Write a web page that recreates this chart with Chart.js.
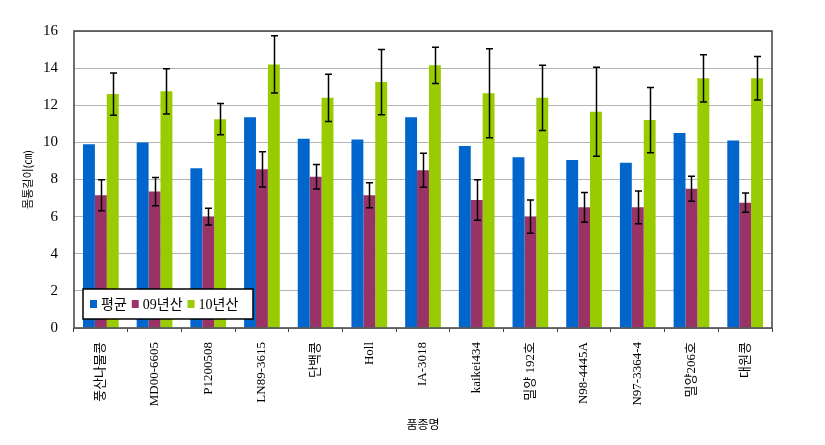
<!DOCTYPE html>
<html>
<head>
<meta charset="utf-8">
<script src="https://cdn.jsdelivr.net/npm/chart.js@4/dist/chart.umd.min.js"></script>
<style>
  html, body { margin: 0; padding: 0; background: #fff; }
  #wrap { width: 825px; height: 445px; }
</style>
</head>
<body>
<div id="wrap"><canvas id="bars"></canvas></div>
<script>
// categories along the x-axis
var varieties = ['풍산나물콩', 'MD00-6605', 'P1200508', 'LN89-3615', '단백콩', 'Holl', 'IA-3018',
                 'kaikei434', '밀양 192호', 'N98-4445A', 'N97-3364-4', '밀양206호', '대원콩'];
// series values
var mean = [9.9, 10.0, 8.6, 11.35, 10.2, 10.15, 11.35, 9.8, 9.2, 9.05, 8.9, 10.5, 10.1];
var y09 = [7.15, 7.35, 6.0, 8.55, 8.15, 7.15, 8.5, 6.9, 6.0, 6.5, 6.5, 7.5, 6.75];
var y10 = [12.6, 12.75, 11.25, 14.2, 12.4, 13.25, 14.15, 12.65, 12.4, 11.65, 11.2, 13.45, 13.45];
// error bar half widths
var err09 = [0.83, 0.76, 0.45, 0.95, 0.66, 0.67, 0.92, 1.09, 0.9, 0.8, 0.88, 0.67, 0.52];
var err10 = [1.14, 1.22, 0.84, 1.54, 1.27, 1.76, 0.98, 2.4, 1.76, 2.4, 1.76, 1.27, 1.17];
// y tick range
var yMin = 0, yMax = 16, yStep = 2;

var serif = "'Liberation Serif', 'Noto Sans CJK KR', serif";
var korean = "'Noto Sans CJK KR', sans-serif";

// error bars drawn from each bar through the y scale
var errorBars = {
  id: 'errorBars',
  afterDatasetsDraw: function(chart) {
    var ctx = chart.ctx;
    var y = chart.scales.y;
    ctx.save();
    ctx.strokeStyle = '#000';
    ctx.lineWidth = 1.5;
    chart.data.datasets.forEach(function(ds, i) {
      if (!ds.errors) return;
      var meta = chart.getDatasetMeta(i);
      meta.data.forEach(function(bar, j) {
        var top = y.getPixelForValue(ds.data[j] + ds.errors[j]);
        var bot = y.getPixelForValue(ds.data[j] - ds.errors[j]);
        var x = Math.round(bar.x) + 0.5;
        ctx.beginPath();
        ctx.moveTo(x, top); ctx.lineTo(x, bot);
        ctx.moveTo(x - 3.5, top); ctx.lineTo(x + 3.5, top);
        ctx.moveTo(x - 3.5, bot); ctx.lineTo(x + 3.5, bot);
        ctx.stroke();
      });
    });
    ctx.restore();
  }
};

// frame round the plot and the boxed legend in its lower left corner
var frameAndLegend = {
  id: 'frameAndLegend',
  afterDraw: function(chart) {
    var ctx = chart.ctx;
    var a = chart.chartArea;
    ctx.save();
    ctx.strokeStyle = '#404040';
    ctx.lineWidth = 1.5;
    ctx.strokeRect(a.left, a.top, a.right - a.left, a.bottom - a.top);

    var bx = a.left + 9, by = a.bottom - 39, bw = 170, bh = 30;
    ctx.fillStyle = '#fff';
    ctx.fillRect(bx, by, bw, bh);
    ctx.strokeStyle = '#000';
    ctx.lineWidth = 1.5;
    ctx.strokeRect(bx, by, bw, bh);

    ctx.font = '14px ' + serif;
    ctx.textBaseline = 'middle';
    var x = bx + 7;
    var cy = by + bh / 2;
    chart.data.datasets.forEach(function(ds) {
      ctx.fillStyle = ds.backgroundColor;
      ctx.fillRect(x, cy - 4, 7, 8);
      x += 11;
      ctx.fillStyle = '#000';
      ctx.fillText(ds.label, x, cy + 1);
      x += ctx.measureText(ds.label).width + 5;
    });
    ctx.restore();
  }
};

new Chart(document.getElementById('bars'), {
  type: 'bar',
  data: {
    labels: varieties,
    datasets: [
      { label: '평균', data: mean, backgroundColor: '#0066CC' },
      { label: '09년산', data: y09, errors: err09, backgroundColor: '#993366' },
      { label: '10년산', data: y10, errors: err10, backgroundColor: '#99CC00' }
    ]
  },
  options: {
    responsive: true,
    maintainAspectRatio: false,
    animation: false,
    layout: { padding: { left: 0, right: 53, top: 31, bottom: 0 } },
    datasets: { bar: { categoryPercentage: 0.665, barPercentage: 1.0 } },
    plugins: {
      legend: { display: false },
      tooltip: { enabled: false }
    },
    scales: {
      x: {
        grid: { drawOnChartArea: false, drawTicks: true, tickLength: 4, offset: true, color: '#404040' },
        border: { display: false },
        ticks: { autoSkip: false, minRotation: 90, maxRotation: 90, padding: 10, color: '#000',
                 font: { family: serif, size: 13 } },
        title: { display: true, text: '품종명', color: '#000', padding: { top: 0, bottom: 13 },
                 font: { family: korean, size: 12 } },
        afterFit: function(s) { s.height = 117; }
      },
      y: {
        min: yMin, max: yMax,
        grid: { color: '#b4b4b4', drawTicks: false },
        border: { display: false },
        ticks: { stepSize: yStep, padding: 16, color: '#000', font: { family: serif, size: 15 } },
        title: { display: true, text: '몸통길이(㎝)', color: '#000', padding: { top: 21, bottom: 0 },
                 font: { family: korean, size: 11 } },
        afterFit: function(s) { s.width = 74; }
      }
    }
  },
  plugins: [errorBars, frameAndLegend]
});
</script>
</body>
</html>
